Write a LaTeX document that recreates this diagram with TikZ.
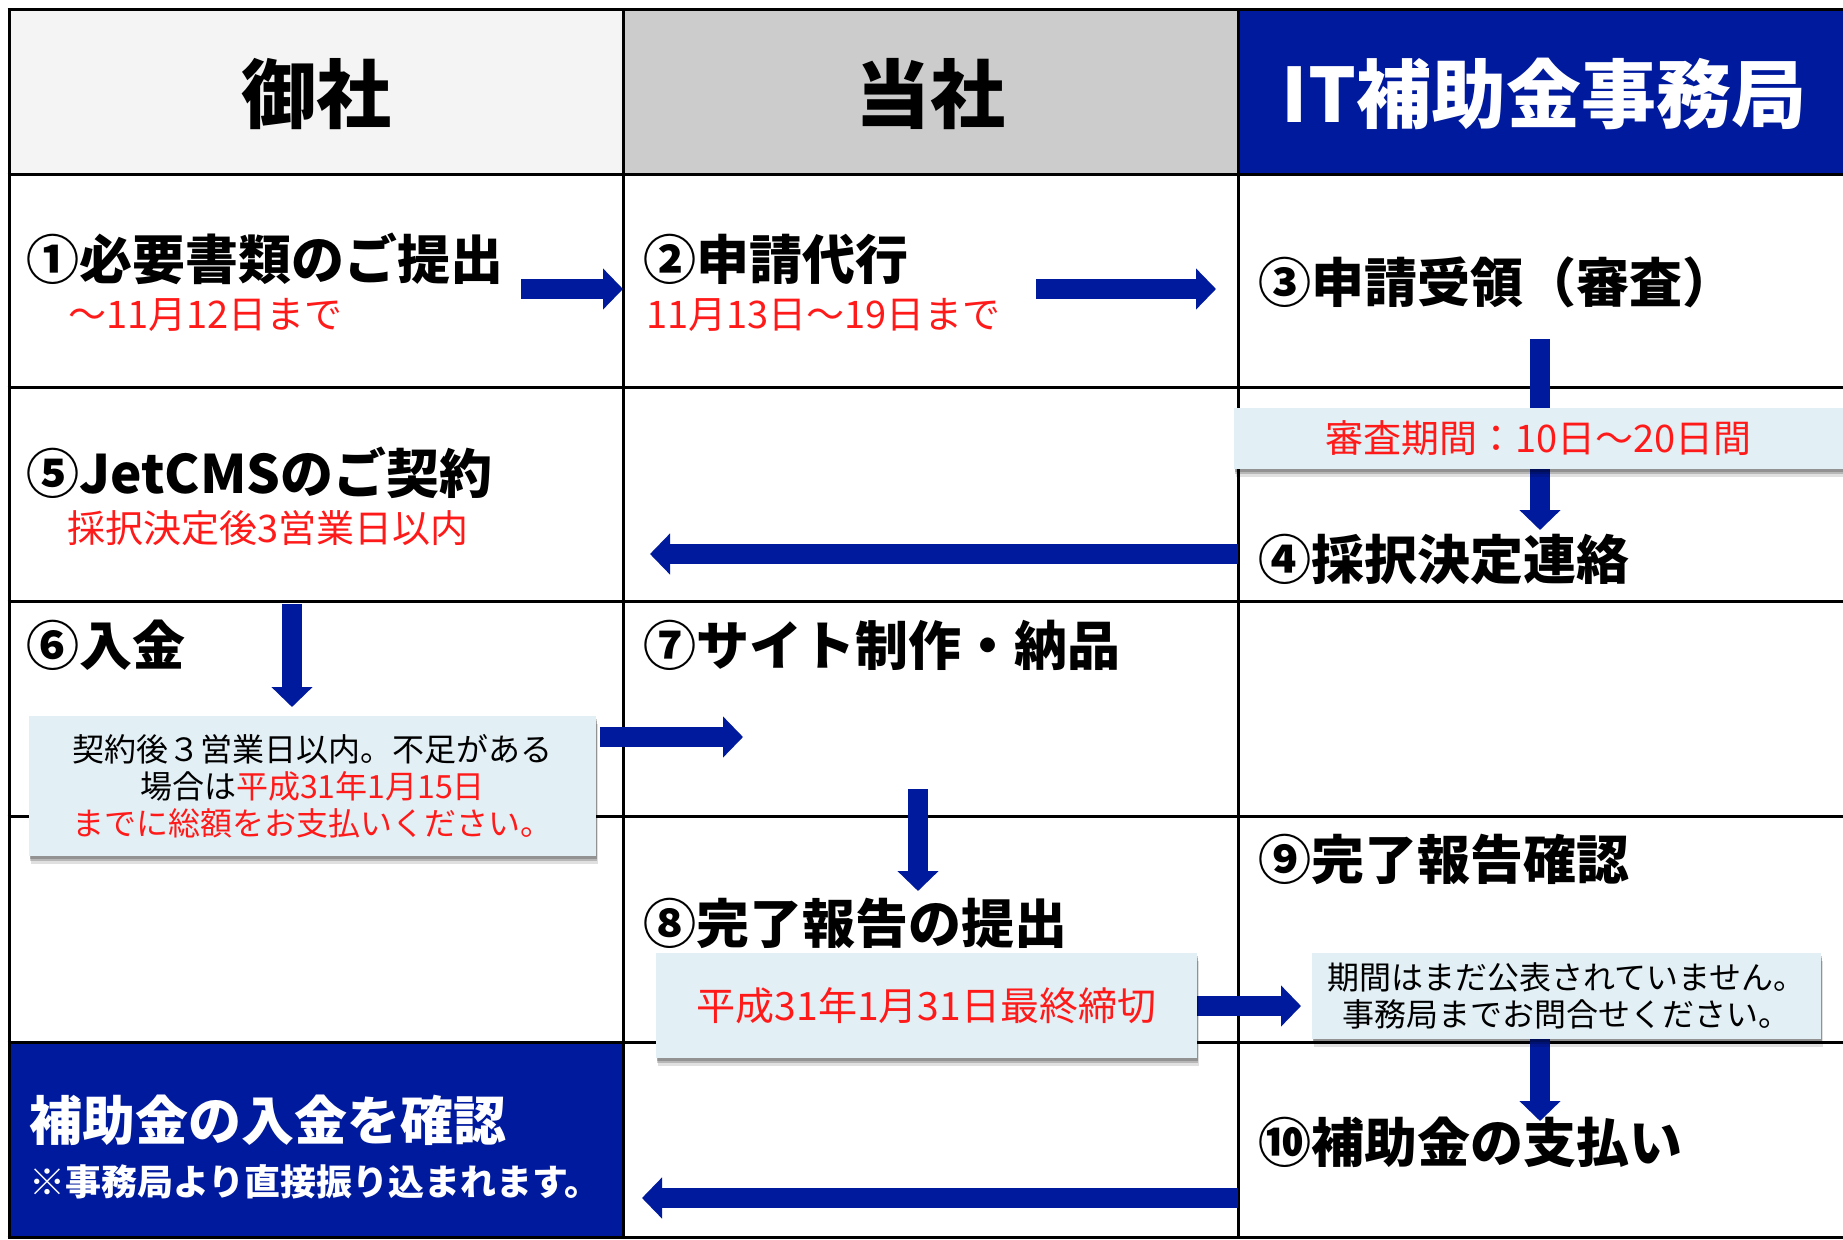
\documentclass[tikz,border=0pt]{standalone}
\usepackage{fontspec}
\newfontfamily\jp{Noto Sans CJK JP}
\usetikzlibrary{arrows.meta,shadows}
\definecolor{navy}{HTML}{001A9E}
\definecolor{hdrA}{HTML}{F4F4F4}
\definecolor{hdrB}{HTML}{CCCCCC}
\definecolor{callbg}{HTML}{E2EFF5}
\definecolor{redtxt}{HTML}{FF1A1A}
\tikzset{
  headtxt/.style={font=\jp\bfseries\fontsize{75}{80}\selectfont, inner sep=0pt},
  steptxt/.style={font=\jp\bfseries\fontsize{53}{60}\selectfont, anchor=west, inner sep=0pt},
  notetxt/.style={font=\jp\fontsize{38}{42}\selectfont, text=redtxt, anchor=west, inner sep=0pt},
  callout/.style={fill=callbg, inner sep=0pt, align=center,
     font=\jp\fontsize{32}{37}\selectfont,
     drop shadow={shadow xshift=2pt, shadow yshift=-8pt, opacity=0.12, fill=black},
     drop shadow={shadow xshift=1pt, shadow yshift=-5pt, opacity=0.18, fill=black},
     drop shadow={shadow xshift=0.5pt, shadow yshift=-2.5pt, opacity=0.2, fill=black}},
  gridline/.style={line width=3pt, draw=black},
  bigarrow/.style={draw=navy, line width=20pt, -{Triangle[width=40pt,length=20pt]}},
}
\begin{document}
\begin{tikzpicture}[x=1pt,y=-1pt]
\useasboundingbox (0,0) rectangle (1843,1239);
\fill[white] (0,0) rectangle (1843,1239);
% header fills
\fill[hdrA] (9,10) rectangle (623,174);
\fill[hdrB] (623,10) rectangle (1238,174);
\fill[navy] (1238,10) rectangle (1843,174);
\fill[navy] (9,1042) rectangle (623,1237);
% grid
\foreach \yy in {10,174,387,601,816,1042,1237} \draw[gridline] (7.5,\yy) -- (1843,\yy);
\foreach \xx in {9,623,1238} \draw[gridline] (\xx,8.5) -- (\xx,1238.5);
% headers
\node[headtxt] (h1) at (316,94) {御社};
\node[headtxt] (h2) at (930,94) {当社};
\node[headtxt, text=white] (h3) at (1544,94) {IT補助金事務局};
% step texts
\node[steptxt] (s1) at (26,259) {①必要書類のご提出};
\node[notetxt] (n1) at (68,315) {〜11月12日まで};
\node[steptxt] (s2) at (643,259) {②申請代行};
\node[notetxt] (n2) at (646,315) {11月13日〜19日まで};
\node[steptxt] (s3) at (1258,282) {③申請受領（審査）};
\node[steptxt] (s5) at (26,473) {⑤JetCMSのご契約};
\node[notetxt] (n5) at (67,528) {採択決定後3営業日以内};
\node[steptxt] (s4) at (1258,560) {④採択決定連絡};
\node[steptxt] (s6) at (26,645) {⑥入金};
\node[steptxt] (s7) at (643,645) {⑦サイト制作・納品};
\node[steptxt] (s8) at (643,923) {⑧完了報告の提出};
\node[steptxt] (s9) at (1258,859) {⑨完了報告確認};
\node[steptxt] (s10) at (1258,1142) {⑩補助金の支払い};
\node[steptxt, text=white] (fin) at (29,1120) {補助金の入金を確認};
\node[steptxt, text=white, font=\jp\bfseries\fontsize{36}{40}\selectfont] (finnote) at (29,1182) {※事務局より直接振り込まれます。};
% arrow coordinates
\coordinate (a1s) at (521,289);  \coordinate (a1e) at (623,289);
\coordinate (a2s) at (1036,289); \coordinate (a2e) at (1216,289);
\coordinate (a3s) at (1540,339); \coordinate (a3e) at (1540,530);
\coordinate (a4s) at (1238,554); \coordinate (a4e) at (650,554);
\coordinate (a5s) at (292,604);  \coordinate (a5e) at (292,707);
\coordinate (a6s) at (600,737);  \coordinate (a6e) at (743,737);
\coordinate (a7s) at (918,789);  \coordinate (a7e) at (918,891);
\coordinate (a8s) at (1197,1006); \coordinate (a8e) at (1301,1006);
\coordinate (a9s) at (1540,1039); \coordinate (a9e) at (1540,1121);
\coordinate (a10s) at (1238,1198); \coordinate (a10e) at (642,1198);
\foreach \i in {1,...,10} \draw[bigarrow] (a\i s) -- (a\i e);
% callouts
\node[callout, minimum width=609pt, minimum height=61pt, text=redtxt,
      font=\jp\fontsize{38}{42}\selectfont] (c3) at (1538.5,438.5) {審査期間：10日〜20日間};
\node[callout, minimum width=567pt, minimum height=140pt] (c6) at (312.5,786)
  {契約後３営業日以内。不足がある\\場合は{\color{redtxt}平成31年1月15日}\\{\color{redtxt}までに総額をお支払いください。}};
\node[callout, minimum width=541pt, minimum height=105pt, text=redtxt,
      font=\jp\fontsize{39}{42}\selectfont] (c8) at (926.5,1005.5) {平成31年1月31日最終締切};
\node[callout, minimum width=509pt, minimum height=86pt] (c9) at (1566.5,996)
  {期間はまだ公表されていません。\\事務局までお問合せください。};
\end{tikzpicture}
\end{document}
